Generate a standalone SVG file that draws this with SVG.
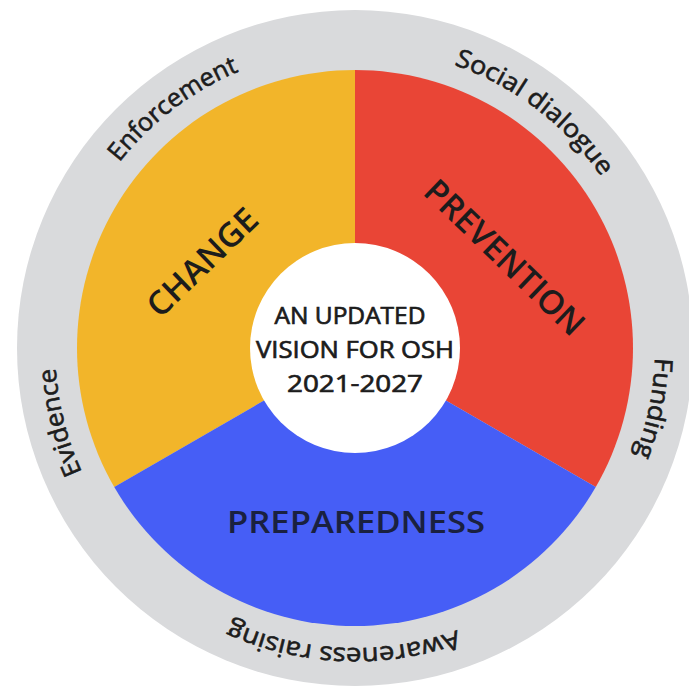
<svg xmlns="http://www.w3.org/2000/svg" xmlns:xlink="http://www.w3.org/1999/xlink" width="689" height="688" viewBox="0 0 689 688">
<style>
.lbl{font-family:"Open Sans","Liberation Sans",sans-serif;font-size:25px;font-weight:400;fill:#1c1c1c;stroke:#1c1c1c;stroke-width:0.6px}
.big{font-family:"Open Sans","Liberation Sans",sans-serif;font-size:33px;font-weight:600;fill:#1c1c1c;text-anchor:middle}
.ctr{font-family:"Open Sans","Liberation Sans",sans-serif;font-size:24px;font-weight:400;fill:#1c1c1c;stroke:#1c1c1c;stroke-width:0.7px;text-anchor:middle}
</style>
<defs>
<path id="ring" d="M55,348 A300,300 0 1,1 655,348 A300,300 0 1,1 55,348"/>
</defs>
<rect width="689" height="688" fill="#ffffff"/>
<g id="outer-ring">
<circle cx="355" cy="348" r="338" fill="#d9dadc"/>
</g>
<g id="change">
<path d="M355,348 L355,70 A278,278 0 0,0 114.25,487 Z" fill="#f2b52a"/>
<g transform="translate(202,262) rotate(-44)"><text class="big" x="0" y="12" textLength="140" lengthAdjust="spacingAndGlyphs">CHANGE</text></g>
</g>
<g id="prevention">
<path d="M355,348 L355,70 A278,278 0 0,1 595.75,487 Z" fill="#e94536"/>
<g transform="translate(505,257) rotate(44)"><text class="big" x="0" y="12" textLength="208" lengthAdjust="spacingAndGlyphs">PREVENTION</text></g>
</g>
<g id="preparedness">
<path d="M355,348 L114.25,487 A278,278 0 0,0 595.75,487 Z" fill="#465ef6"/>
<text class="big" x="356" y="533" style="font-size:31px;fill:#1a2140" textLength="258" lengthAdjust="spacingAndGlyphs">PREPAREDNESS</text>
</g>
<g id="center">
<circle cx="355" cy="348" r="105" fill="#ffffff"/>
<text class="ctr" x="350" y="324" textLength="151" lengthAdjust="spacingAndGlyphs">AN UPDATED</text>
<text class="ctr" x="355" y="358" textLength="198" lengthAdjust="spacingAndGlyphs">VISION FOR OSH</text>
<text class="ctr" x="355" y="392" textLength="136" lengthAdjust="spacingAndGlyphs">2021-2027</text>
</g>
<g id="ring-labels">
<text class="lbl" text-anchor="middle"><textPath xlink:href="#ring" href="#ring" startOffset="276" textLength="152" lengthAdjust="spacingAndGlyphs">Enforcement</textPath></text>
<text class="lbl" text-anchor="middle"><textPath xlink:href="#ring" href="#ring" startOffset="666" textLength="188" lengthAdjust="spacingAndGlyphs">Social dialogue</textPath></text>
<text class="lbl" text-anchor="middle"><textPath xlink:href="#ring" href="#ring" startOffset="1002" textLength="100" lengthAdjust="spacingAndGlyphs">Funding</textPath></text>
<text class="lbl" text-anchor="middle"><textPath xlink:href="#ring" href="#ring" startOffset="1425" textLength="232" lengthAdjust="spacingAndGlyphs">Awareness raising</textPath></text>
<text class="lbl" text-anchor="middle"><textPath xlink:href="#ring" href="#ring" startOffset="1810" textLength="108" lengthAdjust="spacingAndGlyphs">Evidence</textPath></text>
</g>
</svg>
